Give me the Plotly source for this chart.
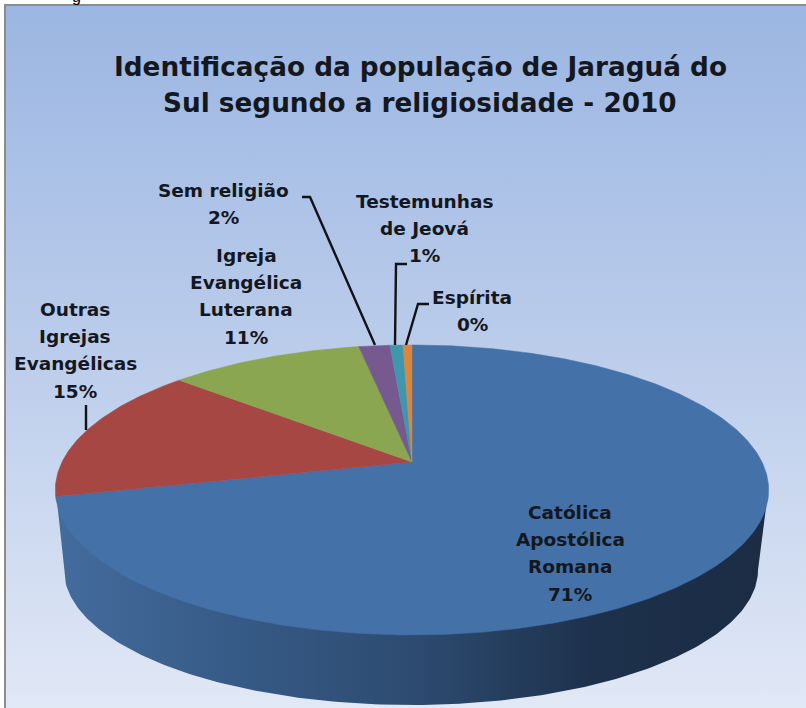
import numpy as np
import plotly.graph_objects as go

# ---- data ----
categories = ["Católica Apostólica Romana", "Outras Igrejas Evangélicas",
              "Igreja Evangélica Luterana", "Sem religião",
              "Testemunhas de Jeová", "Espírita"]
values = [71.2, 15.3, 10.6, 1.7, 0.71, 0.49]
colors = ["#4371a8", "#a64744", "#8aa651", "#75598f", "#3f97ae", "#dc853c"]
title_lines = ["Identificação da população de Jaraguá do",
               "Sul segundo a religiosidade - 2010"]
label_lines = [["Católica", "Apostólica", "Romana"],
               ["Outras", "Igrejas", "Evangélicas"],
               ["Igreja", "Evangélica", "Luterana"],
               ["Sem religião"],
               ["Testemunhas", "de Jeová"],
               ["Espírita"]]

# ---- layout of the picture (pixels) ----
W, H = 806, 708
APEX = (412, 462)
C, A, B = 350.0, 139.6, 0.193          # perspective of the top face
label_pos = [(570, 512), (75, 309), (246, 255), (223, 190), (424, 201), (472, 297)]
line_h = 27.4
leaders = [None,
           [(86, 405), (86, 430)],
           None,
           [(302, 197), (310, 197), (375, 345)],
           [(407, 264), (396, 264), (395, 345)],
           [(429, 304), (418, 304), (406, 345)]]
FONT = "DejaVu Sans"
INK = "#14181e"


def project(theta):
    """theta: clockwise from 12 o'clock, radians -> pixel x, y of the rim."""
    u, v = np.sin(theta), np.cos(theta)
    d = 1 + B * v
    return APEX[0] + C * u / d, APEX[1] - A * v / d


fig = go.Figure()

# page background gradient inside the frame
fig.add_trace(go.Scatter(
    x=[6, W, W, 6, 6], y=[6, 6, H, H, 6], mode="lines", line=dict(width=0),
    fill="toself", hoverinfo="skip", showlegend=False,
    fillgradient=dict(type="vertical", start=6, stop=H,
                      colorscale=[[0, "#9bb6e2"], [0.5, "#bccdeb"], [1, "#e1e8f6"]])))

# side wall of the disc
t = np.linspace(0, np.pi, 181)
top_x, top_y = 412 + 356 * np.cos(t), 492 + 138 * np.sin(t)
bot_x, bot_y = 411 + 347 * np.cos(t), 570 + 135 * np.sin(t)
fig.add_trace(go.Scatter(
    x=np.r_[top_x, bot_x[::-1], top_x[0]], y=np.r_[top_y, bot_y[::-1], top_y[0]],
    mode="lines", line=dict(width=0), fill="toself", hoverinfo="skip", showlegend=False,
    fillgradient=dict(type="horizontal", start=60, stop=770,
                      colorscale=[[0, "#436b9c"], [0.25, "#365a86"], [0.5, "#2d4b70"],
                                  [0.75, "#1d314c"], [1, "#1b2c43"]])))

# top face slices, clockwise from 12 o'clock
edges = np.cumsum([0] + values) / sum(values) * 2 * np.pi
for name, col, a0, a1 in zip(categories, colors, edges[:-1], edges[1:]):
    th = np.linspace(a0, a1, max(3, int((a1 - a0) * 90)))
    xs, ys = project(th)
    fig.add_trace(go.Scatter(
        x=np.r_[APEX[0], xs, APEX[0]], y=np.r_[APEX[1], ys, APEX[1]],
        mode="lines", line=dict(width=0.5, color=col), fill="toself", fillcolor=col,
        name=name, hoverinfo="name", showlegend=False))

# leader lines
for pts in leaders:
    if pts:
        fig.add_trace(go.Scatter(x=[p[0] for p in pts], y=[p[1] for p in pts], mode="lines",
                                 line=dict(color="#101418", width=2.4), hoverinfo="skip",
                                 showlegend=False))

ann = []
def text(x, y, s, size, family=FONT, color=INK, bold=True, yshift=0):
    ann.append(dict(x=x, y=y, yshift=yshift, text=f"<b>{s}</b>" if bold else s, showarrow=False,
                    xanchor="center", yanchor="middle", xref="x", yref="y",
                    font=dict(family=family, size=size, color=color)))

for i, s in enumerate(title_lines):
    text(420, 67 + 36 * i, s, 26.3)

for k, (lines, v, pos) in enumerate(zip(label_lines, values, label_pos)):
    for i, s in enumerate(lines + [f"{v:.0f}%"]):
        text(pos[0], pos[1] + line_h * i, s, 18.5)

# descender of the caption cut off by the page's top edge
text(76, 0, "g", 16, family="Liberation Sans", color="#000000", bold=False, yshift=4)

fig.update_layout(
    width=W, height=H, autosize=False, margin=dict(l=0, r=0, t=0, b=0),
    paper_bgcolor="white", plot_bgcolor="white", annotations=ann, showlegend=False,
    xaxis=dict(range=[0, W], visible=False, fixedrange=True),
    yaxis=dict(range=[H, 0], visible=False, fixedrange=True),
    shapes=[dict(type="line", x0=5, x1=5, y0=5, y1=H, line=dict(color="#8c8c8c", width=2)),
            dict(type="line", x0=4, x1=W, y0=5, y1=5, line=dict(color="#8c8c8c", width=2))])

fig.write_html("out.html", config=dict(displayModeBar=False),
               post_script="document.body.style.margin='0';document.body.style.overflow='hidden';")
